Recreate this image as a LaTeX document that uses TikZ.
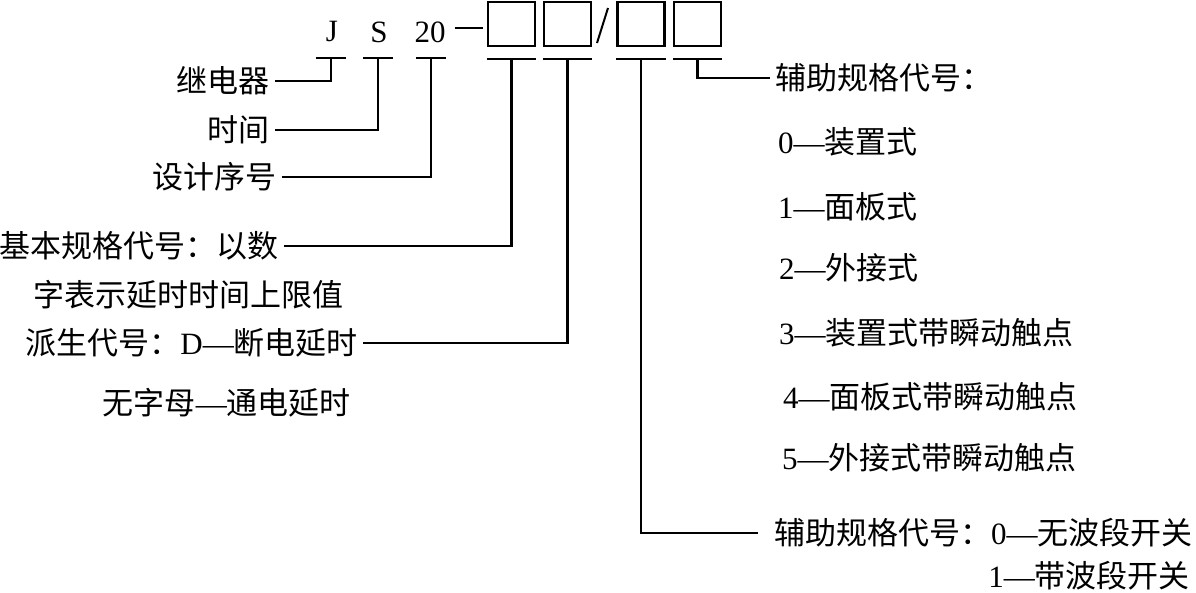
\documentclass[tikz,border=0pt]{standalone}
\usepackage{fontspec}
\setmainfont{Liberation Serif}
\newfontfamily\cjk{Noto Sans CJK SC}
\begin{document}
\begin{tikzpicture}[x=0.5pt,y=-0.5pt,line width=1.2pt,
  lab/.style={font=\fontsize{15.5}{18}\selectfont,inner sep=2pt},
  codebox/.style={draw,minimum width=23.5pt,minimum height=22pt,inner sep=0pt}]
  \useasboundingbox (0,0) rectangle (1196,593);
  % model code
  \node[lab] (J) at (332,32) {J};
  \node[lab] (S) at (379,32) {S};
  \node[lab] (N) at (430,32) {20};
  \node[codebox] (b1) at (511.5,24) {};
  \node[codebox] (b2) at (567.5,24) {};
  \node[codebox] (b3) at (641,24) {};
  \node[codebox] (b4) at (697.5,24) {};
  \coordinate (dash) at ([yshift=2pt]N.east);
  \draw[shorten <=2pt,shorten >=2pt] (dash) -- (dash -| b1.west);
  \draw[line width=1pt] (608,8) -- (597,43);
  % bars under the code
  \foreach \c/\x in {J/331,S/378,N/431}{
    \draw (\x-15,58) -- (\x+15,58);
    \coordinate (\c-bar) at (\x,58);
  }
  \foreach \b in {b1,b2,b3,b4}{
    \draw ([yshift=-6pt]\b.south west) -- ([yshift=-6pt]\b.south east);
    \coordinate (\b-bar) at ([yshift=-6pt]\b.south);
  }
  % left labels
  \node[lab,anchor=east] (relay) at (275,81) {\cjk 继电器};
  \node[lab,anchor=east] (time) at (275,130) {\cjk 时间};
  \node[lab,anchor=east] (serial) at (282,177) {\cjk 设计序号};
  \node[lab,anchor=east] (basic) at (284,246) {\cjk 基本规格代号：以数};
  \node[lab,anchor=west] (basic2) at (28,295) {\cjk 字表示延时时间上限值};
  \node[lab,anchor=east] (derive) at (363,343) {\cjk 派生代号：\rmfamily D—\cjk 断电延时};
  \node[lab,anchor=east] (derive2) at (356,403) {\cjk 无字母\rmfamily —\cjk 通电延时};
  % right labels
  \node[lab,anchor=west] (aux1) at (770,78) {\cjk 辅助规格代号：};
  \node[lab,anchor=west] (m0) at (773,142) {0—\cjk 装置式};
  \node[lab,anchor=west] (m1) at (773,207) {1—\cjk 面板式};
  \node[lab,anchor=west] (m2) at (774,268) {2—\cjk 外接式};
  \node[lab,anchor=west] (m3) at (774,333) {3—\cjk 装置式带瞬动触点};
  \node[lab,anchor=west] (m4) at (778,397) {4—\cjk 面板式带瞬动触点};
  \node[lab,anchor=west] (m5) at (777,458) {5—\cjk 外接式带瞬动触点};
  \node[lab,anchor=west] (aux2) at (769,533) {\cjk 辅助规格代号：\rmfamily 0—\cjk 无波段开关};
  \node[lab,anchor=east] (aux2b) at (1195,576) {1—\cjk 带波段开关};
  % leaders
  \draw (J-bar) |- (relay.east);
  \draw (S-bar) |- (time.east);
  \draw (N-bar) |- (serial.east);
  \draw (b1-bar) |- (basic.east);
  \draw (b2-bar) |- (derive.east);
  \draw (b4-bar) |- (aux1.west);
  \draw[shorten >=5.5pt] (b3-bar) |- (aux2.west);
\end{tikzpicture}
\end{document}
